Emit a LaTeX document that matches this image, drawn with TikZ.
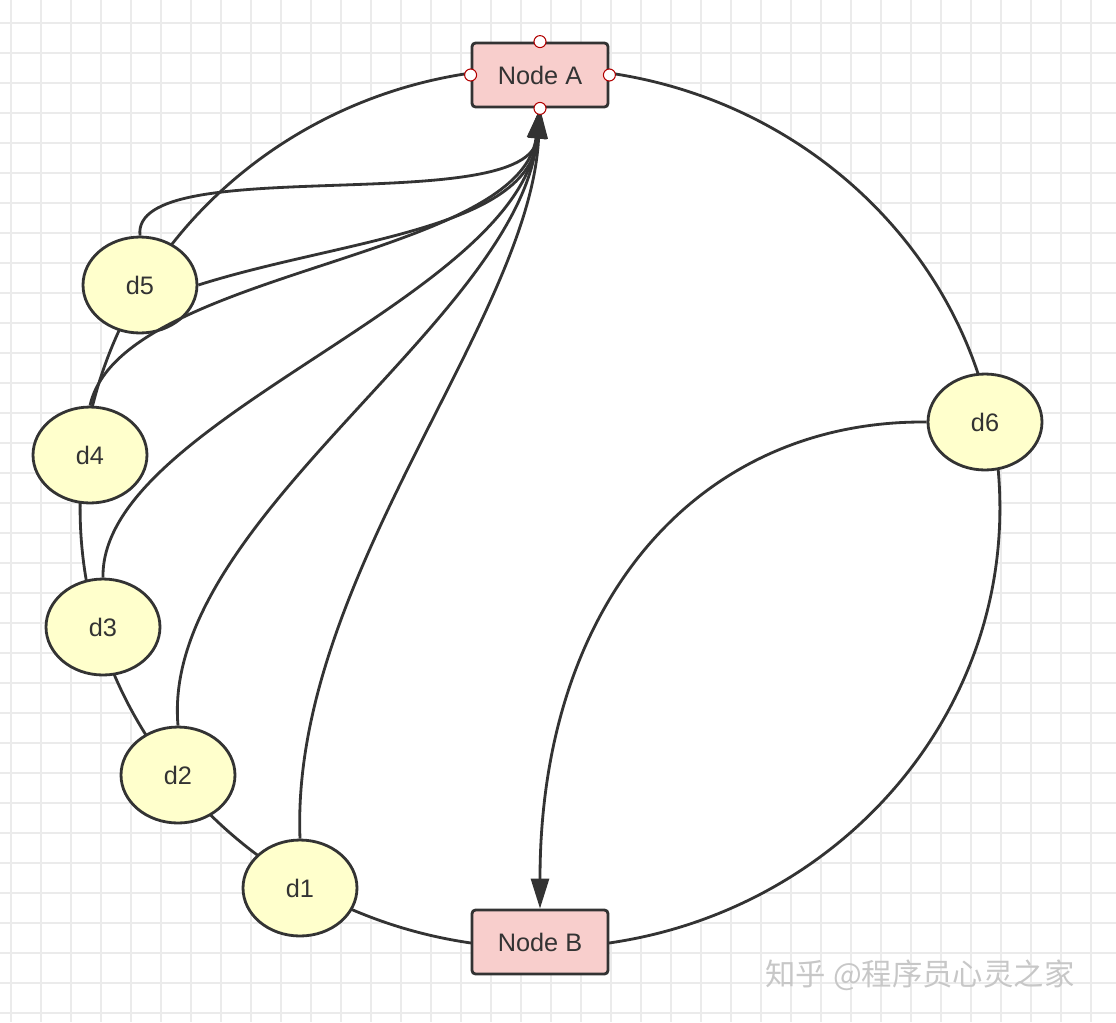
\documentclass[tikz,border=0pt]{standalone}
\usepackage{fontspec}
\setmainfont{Liberation Sans}
\newfontfamily\cjk{Noto Sans CJK SC}
\usetikzlibrary{arrows.meta,shapes.geometric,positioning}
\definecolor{nodepink}{RGB}{248,206,204}
\definecolor{datayellow}{RGB}{255,255,204}
\begin{document}
\begin{tikzpicture}[x=0.02cm, y=-0.02cm, auto]

    \tikzset{
        server/.style = {rectangle, draw=black!80, line width=1.6pt, fill=nodepink, rounded corners=2pt,
            minimum width=2.72cm, minimum height=1.28cm, font=\Large, text=black!80},
        data/.style = {ellipse, draw=black!80, line width=1.6pt, fill=datayellow,
            minimum width=2.28cm, minimum height=1.92cm, font=\Large, text=black!80},
        port/.style = {circle, draw=red!70!black, fill=white, line width=0.6pt, inner sep=0pt, minimum size=0.24cm},
        line/.style = {draw=black!80, line width=1.6pt},
        arrow/.style = {line, -{Triangle[length=0.6cm,width=0.36cm]}},
    }

    \useasboundingbox (0,0) rectangle (1116,1022);
    % background grid
    \foreach \gx in {11,41,...,1116} \draw[black!8, line width=0.8pt] (\gx,0) -- (\gx,1022);
    \foreach \gy in {23,53,...,1022} \draw[black!8, line width=0.8pt] (0,\gy) -- (1116,\gy);

    % ring
    \coordinate (ctr) at (540,508);
    \draw[line, fill=white] (ctr) ellipse[x radius=9.2cm, y radius=8.8cm];

    \node [server] (nA) at (540,75)  {Node A};
    \node [server] (nB) at (540,942) {Node B};

    \node [data] (d5) at (140,285) {d5};
    \node [data] (d4) at (90,455)  {d4};
    \node [data] (d3) at (103,627) {d3};
    \node [data] (d2) at (178,775) {d2};
    \node [data] (d1) at (300,888) {d1};
    \node [data] (d6) at (985,422) {d6};

    % replicas to Node A
    \path [arrow] (d5.north) .. controls (130,150) and (530,220) .. (nA.south);
    \path [arrow] (d5.east) .. controls (340,240) and (530,230) .. (nA.south);
    \path [arrow] (d4.north) .. controls (120,270) and (520,260) .. (nA.south);
    \path [arrow] (d3.north) .. controls (100,420) and (520,300) .. (nA.south);
    \path [arrow] (d2.north) .. controls (160,520) and (520,320) .. (nA.south);
    \path [arrow] (d1.north) .. controls (290,580) and (530,320) .. (nA.south);

    % d6 to Node B
    \path [arrow] (d6.west) .. controls (700,420) and (540,600) .. (nB.north);

    % connection points
    \foreach \p in {north,south,east,west} \node [port] at (nA.\p) {};

    \node [text=black!22, font=\cjk\LARGE] (mark) at (920,975) {知乎 @程序员心灵之家};

\end{tikzpicture}
\end{document}
